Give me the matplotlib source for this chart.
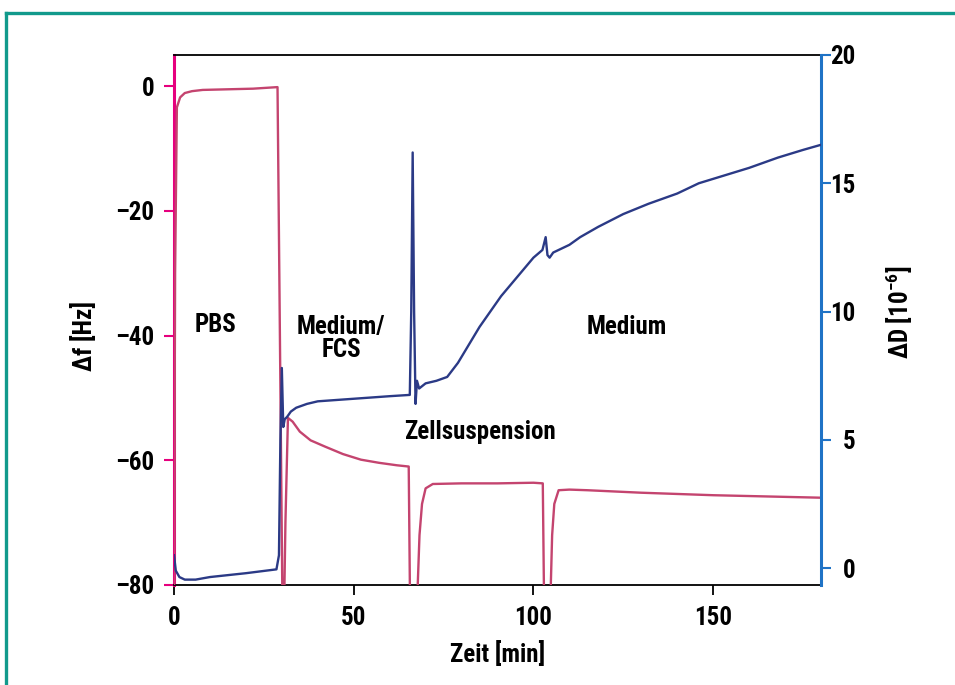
import matplotlib
matplotlib.use("Agg")
import matplotlib.pyplot as plt
import matplotlib.font_manager as fm
from matplotlib.lines import Line2D

# ---- pick a condensed bold font if one is installed ----
entries = fm.fontManager.ttflist
names = {f.name for f in entries}
family, stretch, fsize = None, 'normal', 16
for cand in ['Liberation Sans Narrow', 'Roboto Condensed', 'Open Sans Condensed',
             'DejaVu Sans Condensed', 'Noto Sans Condensed', 'Arial Narrow']:
    if cand in names:
        family, fsize = cand, 18
        break
if family is None:
    for f in entries:
        if 'condensed' in str(f.stretch) and f.name in ('DejaVu Sans', 'Noto Sans', 'Roboto',
                                                       'Open Sans', 'Liberation Sans'):
            family, stretch, fsize = f.name, f.stretch, 18
            break
if family is None:
    family = 'Liberation Sans'

plt.rcParams['font.family'] = [family, 'DejaVu Sans']
plt.rcParams['font.stretch'] = stretch
plt.rcParams['font.weight'] = 'bold'
plt.rcParams['axes.labelweight'] = 'bold'
plt.rcParams['mathtext.fontset'] = 'custom'
plt.rcParams['mathtext.rm'] = family + ':bold'
plt.rcParams['mathtext.default'] = 'rm'

# Δf (frequency shift, left axis) [Hz]
t_f = [0, 0.3, 0.8, 1.7, 3, 5, 8, 15, 22, 28.8, 29.3, 30.2, 30.6, 31.0, 31.7,
       33, 35, 38, 42, 47, 52, 57, 62, 65.3, 65.7, 66.3, 67.5, 68.3, 69, 70,
       72, 80, 90, 100, 102.6, 103.0, 104.6, 105.2, 105.8, 107, 110, 115,
       130, 150, 165, 180]
df = [-85, -30, -3.4, -1.8, -1.1, -0.8, -0.6, -0.5, -0.4, -0.15, -30, -85, -85,
      -70, -53.2, -53.8, -55.4, -56.8, -57.8, -59.0, -59.9, -60.4, -60.8,
      -61.0, -85, -85, -85, -72, -67, -64.5, -63.8, -63.7, -63.7, -63.6,
      -63.7, -85, -85, -72, -67, -64.8, -64.7, -64.8, -65.2, -65.6, -65.8,
      -66.0]

# ΔD (dissipation shift, right axis) [1e-6]
t_d = [0, 0.5, 1.5, 3, 6, 10, 20, 28.5, 29.2, 29.6, 30.0, 30.4, 30.8, 31.5,
       32.5, 34, 37, 40, 45, 50, 55, 60, 65.6, 66.0, 66.4, 66.8, 67.2, 67.6,
       68.2, 70, 73, 76, 79, 82, 85, 88, 91, 94, 97, 100, 102.5, 103.4,
       103.9, 104.5, 105.5, 107, 110, 113, 118, 125, 132, 140, 146, 153,
       160, 168, 175, 180]
dD = [0.5, -0.1, -0.35, -0.45, -0.45, -0.35, -0.2, -0.05, 0.5, 5, 7.8, 5.5,
      5.8, 5.9, 6.1, 6.25, 6.4, 6.5, 6.55, 6.6, 6.65, 6.7, 6.75, 10, 16.2,
      10, 6.4, 7.3, 7.0, 7.2, 7.3, 7.45, 8.0, 8.7, 9.4, 10.0, 10.6, 11.1,
      11.6, 12.1, 12.4, 12.9, 12.2, 12.1, 12.3, 12.4, 12.6, 12.9, 13.3,
      13.8, 14.2, 14.6, 15.0, 15.3, 15.6, 16.0, 16.3, 16.5]

x_ticks = [0, 50, 100, 150]
f_ticks = [0, -20, -40, -60, -80]
f_tick_labels = ["0", "–20", "–40", "–60", "–80"]
d_ticks = [0, 5, 10, 15, 20]

phases = ["PBS", "Medium/\nFCS", "Zellsuspension", "Medium"]
phase_pos = [(11.5, -38.3), (46.5, -40.4), (85, -55.4), (126, -38.6)]

PINK_AX = '#e6007e'
BLUE_AX = '#1f73c6'
PINK_LN = '#c4446f'
BLUE_LN = '#2b3a86'
TEAL = '#129a8c'

fig = plt.figure(figsize=(9.55, 6.85), dpi=100)
fig.patch.set_facecolor('white')

# teal frame (left and top)
fig.add_artist(Line2D([6/955, 6/955], [0, 1 - 13/685], transform=fig.transFigure,
                      color=TEAL, lw=2.4))
fig.add_artist(Line2D([6/955, 1], [1 - 13/685, 1 - 13/685], transform=fig.transFigure,
                      color=TEAL, lw=2.4))

ax = fig.add_axes([174/955, 1 - 585/685, 647/955, 530/685])
ax2 = ax.twinx()

ax.plot(t_f, df, color=PINK_LN, lw=1.7, solid_joinstyle='round', zorder=3)
ax2.plot(t_d, dD, color=BLUE_LN, lw=1.7, solid_joinstyle='round', zorder=3)

ax.set_xlim(0, 180)
ax.set_ylim(-80, 5)
ax2.set_ylim(-0.66, 20)

ax.set_xticks(x_ticks)
ax.set_yticks(f_ticks)
ax.set_yticklabels(f_tick_labels)
ax2.set_yticks(d_ticks)

for s in ['top', 'bottom']:
    ax.spines[s].set_color('black')
    ax.spines[s].set_linewidth(1.3)
ax.spines['left'].set_color(PINK_AX)
ax.spines['left'].set_linewidth(2.2)
ax.spines['right'].set_visible(False)
ax2.spines['right'].set_color(BLUE_AX)
ax2.spines['right'].set_linewidth(2.2)
ax2.spines['left'].set_visible(False)
ax2.spines['top'].set_visible(False)
ax2.spines['bottom'].set_visible(False)

ax.tick_params(axis='x', direction='out', length=7, width=1.3, color='black',
               labelsize=fsize, pad=8)
ax.tick_params(axis='y', direction='out', length=7, width=1.5, color=PINK_AX,
               labelsize=fsize, pad=7)
ax2.tick_params(axis='y', direction='out', length=7, width=1.5, color=BLUE_AX,
                labelsize=fsize, pad=18)
for lab in ax2.get_yticklabels():
    lab.set_horizontalalignment('right')

ax.set_xlabel("Zeit [min]", fontsize=fsize, labelpad=8)
ax.set_ylabel("Δf [Hz]", fontsize=fsize)
ax2.set_ylabel("ΔD [10$^{-6}$]", fontsize=fsize, rotation=90)
ax.yaxis.set_label_coords(-0.119, 0.47)
ax2.yaxis.set_label_coords(1.097, 0.515)

for txt, (px, py) in zip(phases, phase_pos):
    ax.text(px, py, txt, fontsize=fsize, ha='center', va='center',
            linespacing=0.95, zorder=5)

fig.savefig("out.png", dpi=100, facecolor='white')
